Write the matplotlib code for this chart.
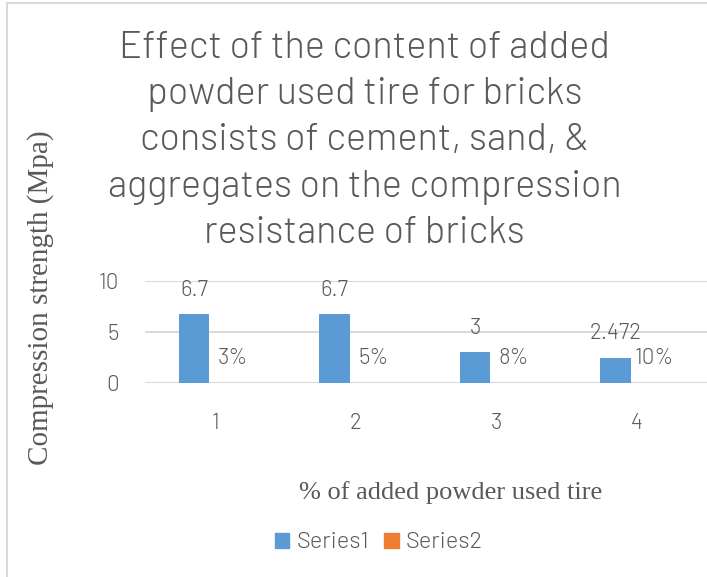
import matplotlib
matplotlib.use("Agg")
import matplotlib.pyplot as plt
from matplotlib.patches import Rectangle, Patch
import numpy as np

# data
categories = ["1", "2", "3", "4"]
series1 = [6.7, 6.7, 3, 2.472]
series1_labels = ["6.7", "6.7", "3", "2.472"]
series2 = [0.03, 0.05, 0.08, 0.10]
series2_labels = ["3%", "5%", "8%", "10%"]

title = ("Effect of the content of added\npowder used tire for bricks\n"
         "consists of cement, sand, &\naggregates on the compression\n"
         "resistance of bricks")

grey = "#595959"
blue = "#5B9BD5"
orange = "#ED7D31"
narrow = ["Barlow", "Barlow Semi Condensed", "DejaVu Sans"]
serif = ["Liberation Serif", "DejaVu Serif"]
lw = 300

fig = plt.figure(figsize=(7.07, 5.77), dpi=100)
ax = fig.add_axes([0.205, 0.3367, 0.795, 0.1768])

x = np.arange(len(categories))
w = 0.217
b1 = ax.bar(x - 0.15, series1, width=w, color=blue, edgecolor="none", zorder=3)
# series2 is almost flat, it sits under the zero gridline like in the original
b2 = ax.bar(x + 0.067, series2, width=w, color=orange, edgecolor="none", zorder=0.4)

for rect, lab in zip(b1, series1_labels):
    ax.annotate(lab, (rect.get_x() + rect.get_width() / 2, rect.get_height()),
                xytext=(0, 17), textcoords="offset points", ha="center", va="center",
                fontsize=16, color=grey, family=narrow, weight=lw)
for rect, lab in zip(b2, series2_labels):
    ax.annotate(lab, (rect.get_x() + rect.get_width() / 2, rect.get_height()),
                xytext=(6, 17), textcoords="offset points", ha="center", va="center",
                fontsize=16, color=grey, family=narrow, weight=lw)

ax.set_xlim(-0.5, len(categories) - 0.5)
ax.set_ylim(0, 10)
ax.set_yticks([0, 5, 10])
ax.set_xticks(x)
ax.set_xticklabels(categories)
ax.grid(axis="y", color="#D9D9D9", linewidth=1.5, zorder=0.5)
ax.set_axisbelow(True)
for s in ax.spines.values():
    s.set_visible(False)
ax.tick_params(axis="both", length=0, colors=grey, labelsize=16)
ax.tick_params(axis="y", pad=19)
ax.tick_params(axis="x", pad=22)
for t in ax.get_xticklabels() + ax.get_yticklabels():
    t.set_family(narrow)
    t.set_weight(lw)

fig.text(0.516, 0.756, title, ha="center", va="center", fontsize=27.3,
         color=grey, family=narrow, weight=lw, linespacing=1.42)
fig.text(0.057, 0.4835, "Compression strength (Mpa)", rotation=90,
         ha="center", va="center", fontsize=21, color=grey, family=serif)
fig.text(0.638, 0.147, "% of added powder used tire", ha="center", va="center",
         fontsize=19, color=grey, family=serif)

handles = [Patch(color=blue, label="Series1"), Patch(color=orange, label="Series2")]
fig.legend(handles=handles, loc="center", bbox_to_anchor=(0.536, 0.059), ncol=2,
           frameon=False, handlelength=0.6, handleheight=0.6, handletextpad=0.3,
           columnspacing=0.65, prop={"family": narrow, "size": 17, "weight": lw},
           labelcolor=grey)

fig.patches.append(Rectangle((0.01, -0.05), 1.1, 1.045, transform=fig.transFigure,
                             fill=False, edgecolor="#D9D9D9", linewidth=1.5))

fig.savefig("out.png", dpi=100)
